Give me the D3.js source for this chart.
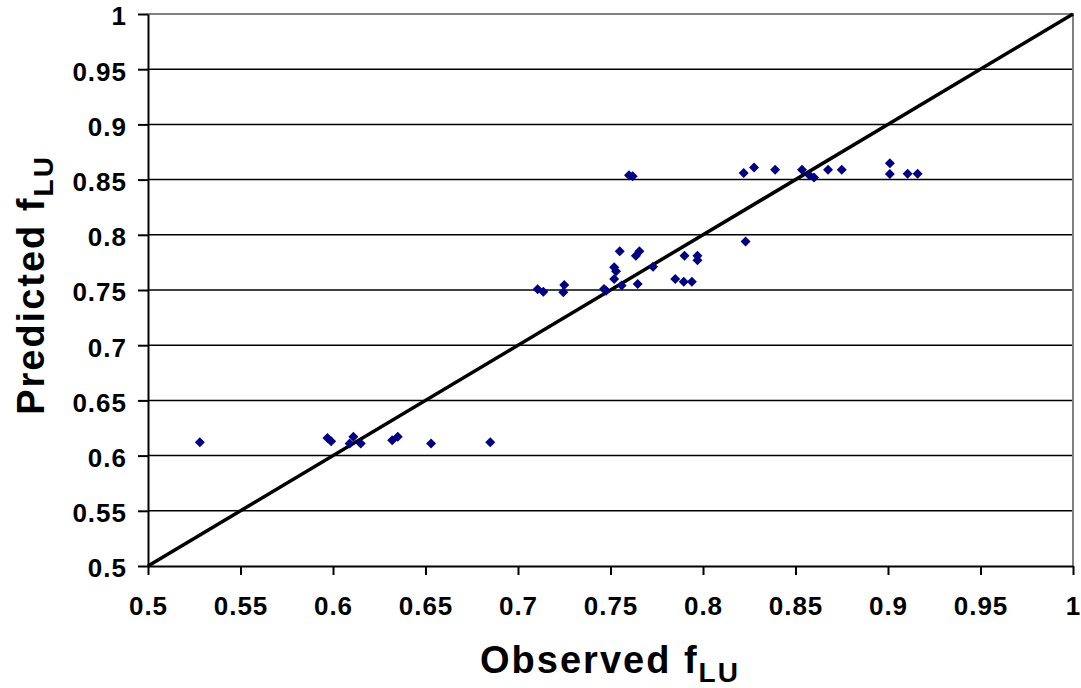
<!DOCTYPE html>
<html>
<head>
<meta charset="utf-8">
<title>Observed vs Predicted fLU</title>
<script src="https://d3js.org/d3.v7.min.js"></script>
<style>
  body { margin: 0; background: #fff; }
  svg text { font-family: "Liberation Sans", Arial, sans-serif; font-weight: bold; fill: #000; }
</style>
</head>
<body>
<div id="chart"></div>
<script>
// observed / predicted pairs
var observed = [0.528, 0.597, 0.599, 0.611, 0.609, 0.615, 0.632, 0.635, 0.653, 0.685,
                0.7106, 0.7137, 0.725, 0.7245, 0.7465, 0.7476, 0.752, 0.753, 0.752, 0.755,
                0.756, 0.7637, 0.7656, 0.7647, 0.760, 0.762, 0.773, 0.785, 0.7896, 0.794,
                0.790, 0.797, 0.797, 0.822, 0.823, 0.8276, 0.839, 0.8535, 0.8575, 0.860,
                0.8676, 0.875, 0.901, 0.901, 0.9106, 0.916]
var predicted = [0.612, 0.616, 0.613, 0.617, 0.611, 0.611, 0.614, 0.617, 0.611, 0.612,
                 0.7506, 0.7485, 0.7545, 0.748, 0.7509, 0.7494, 0.7706, 0.767, 0.760, 0.785,
                 0.754, 0.781, 0.785, 0.7554, 0.854, 0.853, 0.771, 0.760, 0.7575, 0.7575,
                 0.781, 0.781, 0.777, 0.856, 0.794, 0.861, 0.859, 0.859, 0.854, 0.852,
                 0.859, 0.859, 0.8648, 0.855, 0.8554, 0.8554]
var ticks = [0.5, 0.55, 0.6, 0.65, 0.7, 0.75, 0.8, 0.85, 0.9, 0.95, 1]
var tickLabels = ["0.5", "0.55", "0.6", "0.65", "0.7", "0.75", "0.8", "0.85", "0.9", "0.95", "1"]

var width = 1081, height = 688

var svg = d3.select("#chart").append("svg")
    .attr("width", width)
    .attr("height", height)

var x = d3.scaleLinear().domain([0.5, 1]).range([148, 1073])
var y = d3.scaleLinear().domain([0.5, 1]).range([566, 14])

// gridlines
svg.append("g").selectAll("line")
    .data(ticks.slice(1, -1))
    .enter().append("line")
    .attr("x1", x(0.5)).attr("x2", x(1))
    .attr("y1", function(d) { return y(d) }).attr("y2", function(d) { return y(d) })
    .attr("stroke", "#000").attr("stroke-width", 1.5)

// top and right border in grey
svg.append("path")
    .attr("d", "M" + x(0.5) + "," + y(1) + "H" + x(1) + "V" + y(0.5))
    .attr("fill", "none").attr("stroke", "#808080").attr("stroke-width", 2)

var fmt = function(d) { return tickLabels[ticks.indexOf(d)] }

var xAxis = d3.axisBottom(x).tickValues(ticks).tickFormat(fmt).tickSize(9).tickSizeOuter(0)
var yAxis = d3.axisLeft(y).tickValues(ticks).tickFormat(fmt).tickSize(10).tickSizeOuter(0).tickPadding(11)

var gx = svg.append("g").attr("transform", "translate(0," + y(0.5) + ")").call(xAxis)
var gy = svg.append("g").attr("transform", "translate(" + x(0.5) + ",0)").call(yAxis)

;[gx, gy].forEach(function(g) {
    g.select(".domain").attr("stroke", "#000").attr("stroke-width", 2)
    g.selectAll(".tick line").attr("stroke", "#000").attr("stroke-width", 2)
    g.selectAll(".tick text")
        .style("font-family", "'Liberation Sans', Arial, sans-serif")
        .style("font-weight", "bold")
        .style("font-size", "26px")
        .style("letter-spacing", "1px")
        .attr("fill", "#000")
})
gy.selectAll(".tick text").attr("dy", "0.42em")
gx.selectAll(".tick text").attr("y", 49).attr("dy", 0)

// 1:1 line
svg.append("line")
    .attr("x1", x(0.5)).attr("y1", y(0.5))
    .attr("x2", x(1)).attr("y2", y(1))
    .attr("stroke", "#000").attr("stroke-width", 3.5)

// points
var pts = observed.map(function(d, i) { return [d, predicted[i]] })
var diamond = d3.symbol().type(d3.symbolSquare).size(50)

svg.append("g").selectAll("path")
    .data(pts)
    .enter().append("path")
    .attr("d", diamond)
    .attr("transform", function(d) { return "translate(" + x(d[0]) + "," + y(d[1]) + ") rotate(45)" })
    .attr("fill", "#000080")

// axis titles
var xt = svg.append("text")
    .attr("x", 610).attr("y", 673)
    .attr("text-anchor", "middle")
    .style("font-size", "38px")
    .style("letter-spacing", "2px")
xt.append("tspan").text("Observed f")
xt.append("tspan").attr("dy", 9).style("font-size", "28px").text("LU")

var yt = svg.append("text")
    .attr("transform", "translate(44,285) rotate(-90)")
    .attr("text-anchor", "middle")
    .style("font-size", "38px")
    .style("letter-spacing", "2px")
yt.append("tspan").text("Predicted f")
yt.append("tspan").attr("dy", 9).style("font-size", "28px").text("LU")
</script>
</body>
</html>
